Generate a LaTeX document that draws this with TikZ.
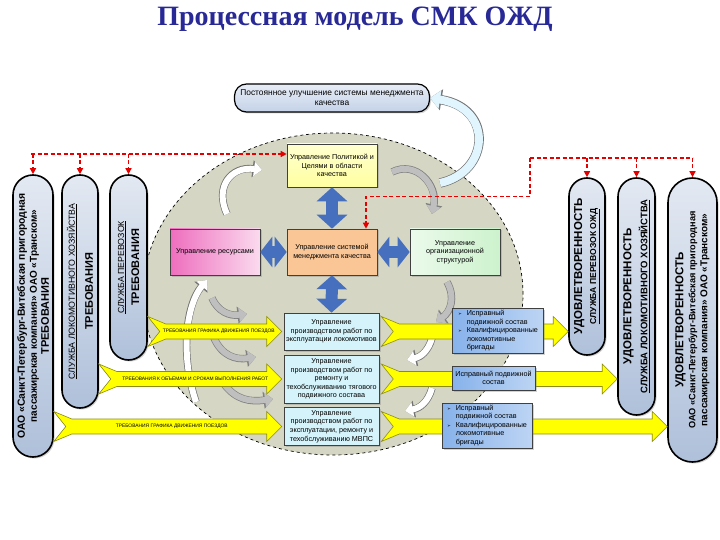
\documentclass[tikz,border=0pt]{standalone}
\usepackage{fontspec}
\setmainfont{Liberation Sans}
\newfontfamily\titlefont{Liberation Serif}
\newfontfamily\symfont{DejaVu Sans}
\usetikzlibrary{arrows.meta,calc,shadows}
\definecolor{titleblue}{RGB}{40,40,150}
\definecolor{cylb}{RGB}{175,192,218}
\definecolor{ellc}{RGB}{214,214,196}
\definecolor{polc}{RGB}{255,255,160}
\definecolor{qmsc}{RGB}{250,198,150}
\definecolor{resc}{RGB}{238,110,190}
\definecolor{orgc}{RGB}{205,242,205}
\definecolor{procc}{RGB}{212,243,250}
\definecolor{rblue}{RGB}{135,178,235}
\definecolor{barblue}{RGB}{70,112,190}
\definecolor{yel}{RGB}{255,255,0}
\definecolor{yolive}{RGB}{140,140,20}
\definecolor{imprc}{RGB}{196,210,232}
\newcommand\blt{{\symfont\fontsize{4.5}{5}\selectfont ➢}}
\newcommand\yarr[2]{%
\path (#1) coordinate (ys) (#2) coordinate (ye);
\filldraw[yarrow] (ys) ++(0,-15) -- ($(ys)+(18,-7.5)$) -- ($(ye)+(-15,-7.5)$) -- ($(ye)+(-15,-15)$) -- (ye)
 -- ($(ye)+(-15,15)$) -- ($(ye)+(-15,7.5)$) -- ($(ys)+(18,7.5)$) -- ($(ys)+(0,15)$) -- ($(ys)+(12,0)$) -- cycle;}
\begin{document}
\begin{tikzpicture}[x=1pt,y=-1pt,
box/.style={draw=black!75,line width=0.6pt,align=center,inner sep=1pt,font=\fontsize{7.2}{8.6}\selectfont,
 drop shadow={shadow xshift=1.5pt,shadow yshift=-1.5pt,opacity=0.35}},
cyl/.style={draw=black,line width=1.6pt,rounded corners=#1,rotate=90,align=center,inner sep=0pt,
 top color=cylb!35,bottom color=cylb,drop shadow={shadow xshift=1.5pt,shadow yshift=-1.5pt,opacity=0.35}},
barr/.style={line width=12pt,draw=barblue,{Triangle[length=14pt,width=30pt]}-{Triangle[length=14pt,width=30pt]}},
harr/.style={line width=12pt,draw=barblue,{Triangle[length=12pt,width=30pt]}-{Triangle[length=12pt,width=30pt]}},
yarrow/.style={draw=yolive,line width=0.6pt,fill=yel},
alab/.style={font=\fontsize{4.9}{5}\selectfont,inner sep=0pt},
rdash/.style={draw=red!90!black,line width=1.4pt,dash pattern=on 4pt off 2.5pt},
rtip/.style={-{Triangle[length=6pt,width=6pt]}},
cyca/.style={line width=6pt,white,-{Triangle[length=8pt,width=14pt]},
 preaction={draw=black!55,line width=7.4pt,-{Triangle[length=9.5pt,width=16.5pt]}}},
cycb/.style={line width=6pt,black!25,-{Triangle[length=8pt,width=14pt]},
 preaction={draw=black!50,line width=7.4pt,-{Triangle[length=9.5pt,width=16.5pt]}}}]
\useasboundingbox (0,0) rectangle (720,540);
\fill[white] (0,0) rectangle (720,540);
\node[font=\titlefont\bfseries\fontsize{28}{32}\selectfont,text=titleblue] (ttl) at (355,19) {Процессная модель СМК ОЖД};
\node[box,rounded corners=12pt,line width=1.2pt,draw=black,minimum width=195pt,minimum height=28pt,font=\fontsize{8.4}{10}\selectfont,
 top color=imprc!40,bottom color=imprc] (impr) at (332,98) {Постоянное улучшение системы менеджмента\\качества};
\draw[fill=ellc,dashed,line width=0.7pt] (333,294) ellipse [x radius=190pt,y radius=161pt];
\coordinate (imp0) at (440,183);
\draw[line width=8pt,cyan!12,-{Triangle[length=10pt,width=18pt]},preaction={draw=black!55,line width=9.4pt,-{Triangle[length=11.5pt,width=20.5pt]}}]
 (imp0) .. controls (490,172) and (494,108) .. (impr.east);
\draw[cyca] (227,214) .. controls (214,186) and (232,166) .. (262,170);
\draw[cycb] (392,172) .. controls (416,160) and (438,185) .. (432,214);
\draw[cycb] (447,282) .. controls (456,298) and (450,312) .. (436,322);
\draw[cyca] (432,338) .. controls (428,352) and (420,357) .. (407,360);
\draw[cyca] (432,388) .. controls (428,402) and (420,408) .. (405,411);
\draw[cyca] (196,402) .. controls (180,355) and (186,305) .. (207,280);
\draw[cycb] (212,298) .. controls (218,312) and (230,316) .. (247,314);
\draw[cycb] (214,338) .. controls (222,356) and (236,360) .. (256,357);
\draw[cycb] (224,384) .. controls (236,400) and (250,402) .. (273,399);
\node[cyl=20pt,minimum width=282pt,minimum height=40pt,font=\bfseries] (L1) at (33,316)
 {\fontsize{10.4}{12.5}\selectfont ОАО «Санкт-Петербург-Витебская пригородная\\пассажирская компания» ОАО «Транском»\\\fontsize{11}{12.5}\selectfont ТРЕБОВАНИЯ};
\node[cyl=18pt,minimum width=233pt,minimum height=36pt] (L2) at (80,291.5)
 {\fontsize{8.8}{9}\selectfont\underline{СЛУЖБА ЛОКОМОТИВНОГО ХОЗЯЙСТВА}\\[6pt]\fontsize{11}{12}\selectfont\bfseries ТРЕБОВАНИЯ};
\node[cyl=18.5pt,minimum width=185pt,minimum height=37pt] (L3) at (128.5,267.5)
 {\fontsize{8.8}{9}\selectfont\underline{СЛУЖБА ПЕРЕВОЗОК}\\[3pt]\fontsize{11}{12}\selectfont\bfseries ТРЕБОВАНИЯ};
\node[cyl=18pt,minimum width=177pt,minimum height=36pt,font=\bfseries] (C1) at (587,266.5)
 {\fontsize{11.5}{12}\selectfont УДОВЛЕТВОРЕННОСТЬ\\[2pt]\fontsize{8.6}{9}\selectfont\underline{СЛУЖБА ПЕРЕВОЗОК ОЖД}};
\node[cyl=18.5pt,minimum width=237pt,minimum height=37pt,font=\bfseries] (C2) at (636.5,296.5)
 {\fontsize{11.5}{12}\selectfont УДОВЛЕТВОРЕННОСТЬ\\[4pt]\fontsize{9.5}{10}\selectfont\underline{СЛУЖБА ЛОКОМОТИВНОГО ХОЗЯЙСТВА}};
\node[cyl=24.5pt,minimum width=284pt,minimum height=49pt,font=\bfseries] (C3) at (692.5,320)
 {\fontsize{11.5}{13}\selectfont УДОВЛЕТВОРЕННОСТЬ\\\fontsize{9.2}{12}\selectfont ОАО «Санкт-Петербург-Витебская пригородная\\пассажирская компания» ОАО «Транском»};
\node[box,minimum width=90pt,minimum height=43pt,top color=polc!50,bottom color=polc] (pol) at (332,165.5) {Управление Политикой и\\Целями в области\\качества};
\node[box,minimum width=90pt,minimum height=46pt,fill=qmsc] (qms) at (332,252) {Управление системой\\менеджмента качества};
\node[box,minimum width=90pt,minimum height=46pt,left color=resc,right color=resc!25] (res) at (215,252) {Управление ресурсами};
\node[box,minimum width=90pt,minimum height=46pt,left color=orgc!40,right color=orgc] (org) at (455,252) {Управление\\организационной\\структурой};
\node[box,minimum width=95pt,minimum height=37pt,fill=procc] (p1) at (331.5,331.5) {Управление\\производством работ по\\эксплуатации локомотивов};
\node[box,minimum width=95pt,minimum height=48pt,fill=procc] (p2) at (331.5,379) {Управление\\производством работ по\\ремонту и\\техобслуживанию тягового\\подвижного состава};
\node[box,minimum width=95pt,minimum height=38pt,fill=procc] (p3) at (331.5,426.5) {Управление\\производством работ по\\эксплуатации, ремонту и\\техобслуживанию МВПС};
\draw[barr] (pol.south) -- (qms.north);
\draw[barr] (qms.south) -- (p1.north);
\draw[harr] (res.east) -- (qms.west);
\draw[harr] (qms.east) -- (org.west);
\yarr{L3.south |- p1.west}{[xshift=-2pt]p1.west}
\yarr{L2.south |- p2.west}{[xshift=-2pt]p2.west}
\yarr{L1.south |- p3.west}{[xshift=-2pt]p3.west}
\yarr{[xshift=2pt]p1.east}{C1.north |- p1.east}
\yarr{[xshift=2pt]p2.east}{C2.north |- p2.east}
\yarr{[xshift=2pt]p3.east}{C3.north |- p3.east}
\node[alab] (t1) at ($(L3.south |- p1.west)!0.5!(p1.west)+(3,0)$) {ТРЕБОВАНИЯ ГРАФИКА ДВИЖЕНИЯ ПОЕЗДОВ};
\node[alab] (t2) at ($(L2.south |- p2.west)!0.5!(p2.west)+(4,0)$) {ТРЕБОВАНИЯ К ОБЪЕМАМ И СРОКАМ ВЫПОЛНЕНИЯ РАБОТ};
\node[alab] (t3) at ($(L1.south |- p3.west)!0.5!(p3.west)+(3,0)$) {ТРЕБОВАНИЯ ГРАФИКА ДВИЖЕНИЯ ПОЕЗДОВ};
\node[box,minimum width=91pt,minimum height=44pt,left color=rblue,right color=rblue!55,align=left] (b1) at (498,331)
 {\begin{tabular}{@{}l@{\hspace{5pt}}l@{}}\blt&Исправный\\&подвижной состав\\\blt&Квалифицированные\\&локомотивные\\&бригады\end{tabular}};
\node[box,minimum width=83pt,minimum height=24pt,left color=rblue,right color=rblue!55] (b2) at (493.5,378) {Исправный подвижной\\состав};
\node[box,minimum width=90pt,minimum height=45pt,left color=rblue,right color=rblue!55,align=left] (b3) at (487,425.5)
 {\begin{tabular}{@{}l@{\hspace{5pt}}l@{}}\blt&Исправный\\&подвижной состав\\\blt&Квалифицированные\\&локомотивные\\&бригады\end{tabular}};
\coordinate (rl) at (31,154);
\draw[rdash,rtip] (rl) -- (pol.west |- rl);
\foreach \c in {L1,L2,L3}{\draw[rdash,rtip] (\c.east |- rl) -- (\c.east);}
\coordinate (rr) at (530,158);
\draw[rdash] (rr) -- (C3.east |- rr);
\foreach \c in {C1,C2,C3}{\draw[rdash,rtip] (\c.east |- rr) -- (\c.east);}
\coordinate (rq) at ([xshift=34pt]qms.north);
\draw[rdash,rtip] (rr) |- ([yshift=32pt]rq) -- (rq);
\end{tikzpicture}
\end{document}
